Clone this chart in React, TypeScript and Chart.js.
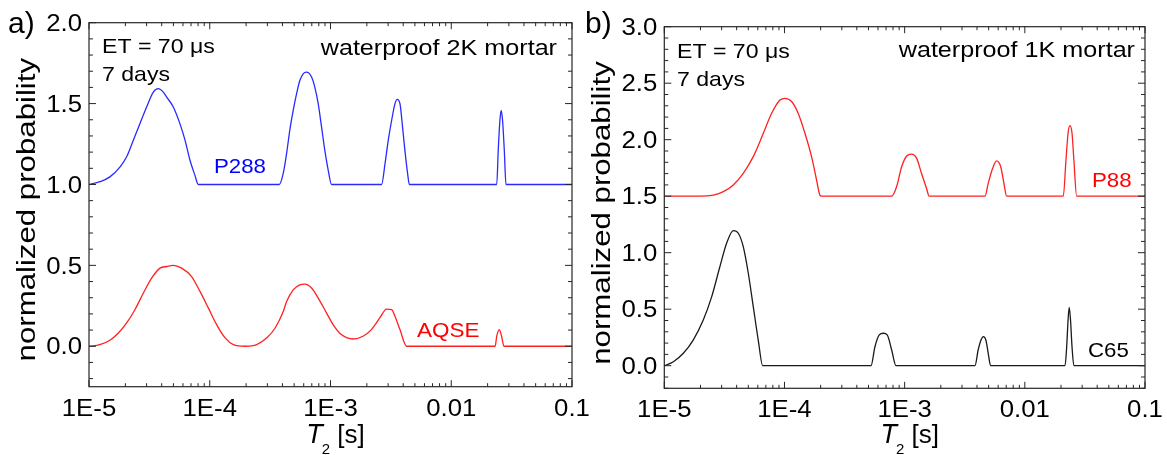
import React, { useEffect, useRef } from "react";
import { Chart, registerables } from "chart.js";

Chart.register(...registerables);

// ---------------- data ----------------
const xTickValues = [1e-5, 1e-4, 1e-3, 1e-2, 1e-1];
const xTickLabels = ["1E-5", "1E-4", "1E-3", "0.01", "0.1"];
const yTickValuesA = [0, 0.5, 1.0, 1.5, 2.0];
const yTickLabelsA = ["0.0", "0.5", "1.0", "1.5", "2.0"];
const yTickValuesB = [0, 0.5, 1.0, 1.5, 2.0, 2.5, 3.0];
const yTickLabelsB = ["0.0", "0.5", "1.0", "1.5", "2.0", "2.5", "3.0"];

// panel a) waterproof 2K mortar
const p288T2 = [1e-5, 1.23e-5, 1.49e-5, 1.81e-5, 2.05e-5, 2.33e-5, 2.64e-5, 3.0e-5, 3.41e-5, 3.75e-5, 4.12e-5, 4.4e-5, 4.99e-5, 5.66e-5, 6.24e-5, 6.86e-5, 7.53e-5, 8.04e-5, 3.77e-4, 4.06e-4, 4.33e-4, 4.6e-4, 4.91e-4, 5.24e-4, 5.57e-4, 5.94e-4, 6.32e-4, 6.97e-4, 7.41e-4, 7.91e-4, 8.43e-4, 8.97e-4, 9.57e-4, 1.02e-3, 2.65e-3, 2.83e-3, 3.01e-3, 3.21e-3, 3.42e-3, 3.57e-3, 3.76e-3, 3.95e-3, 4.13e-3, 4.35e-3, 4.5e-3, 0.0238, 0.0245, 0.0253, 0.0259, 0.0266, 0.0275, 0.0284, 0.1];
const p288Y = [1.0, 1.017, 1.047, 1.109, 1.171, 1.274, 1.376, 1.479, 1.571, 1.592, 1.571, 1.54, 1.479, 1.376, 1.274, 1.15, 1.058, 1.0, 1.0, 1.068, 1.192, 1.335, 1.458, 1.561, 1.643, 1.684, 1.694, 1.664, 1.602, 1.5, 1.356, 1.212, 1.089, 1.0, 1.0, 1.13, 1.274, 1.397, 1.5, 1.526, 1.5, 1.356, 1.212, 1.068, 1.0, 1.0, 1.212, 1.397, 1.458, 1.397, 1.212, 1.0, 1.0];

const aqseT2 = [1e-5, 1.23e-5, 1.49e-5, 1.75e-5, 2.05e-5, 2.4e-5, 2.82e-5, 3.3e-5, 3.87e-5, 4.4e-5, 4.99e-5, 5.85e-5, 7.08e-5, 8.3e-5, 9.73e-5, 1.14e-4, 1.34e-4, 1.57e-4, 1.96e-4, 2.45e-4, 2.97e-4, 3.48e-4, 4.07e-4, 4.33e-4, 4.91e-4, 5.57e-4, 6.12e-4, 6.97e-4, 7.91e-4, 9.27e-4, 1.05e-3, 1.23e-3, 1.54e-3, 1.86e-3, 2.18e-3, 2.56e-3, 2.91e-3, 3.21e-3, 3.42e-3, 3.76e-3, 4.27e-3, 0.0231, 0.0238, 0.025, 0.0261, 0.0273, 0.1];
const aqseY = [0, 0.01, 0.037, 0.082, 0.144, 0.226, 0.329, 0.421, 0.483, 0.493, 0.5, 0.483, 0.431, 0.339, 0.237, 0.134, 0.052, 0.01, 0, 0.01, 0.052, 0.113, 0.216, 0.277, 0.349, 0.38, 0.384, 0.36, 0.298, 0.206, 0.134, 0.072, 0.045, 0.062, 0.103, 0.175, 0.23, 0.226, 0.185, 0.103, 0, 0, 0.062, 0.103, 0.062, 0, 0];

// panel b) waterproof 1K mortar
const p88T2 = [1e-5, 2.0e-5, 2.56e-5, 3.1e-5, 3.75e-5, 4.54e-5, 5.5e-5, 6.67e-5, 7.82e-5, 9.18e-5, 1.01e-4, 1.15e-4, 1.3e-4, 1.48e-4, 1.68e-4, 1.85e-4, 1.97e-4, 2.04e-4, 7.8e-4, 8.57e-4, 9.44e-4, 1.04e-3, 1.14e-3, 1.26e-3, 1.38e-3, 1.52e-3, 1.6e-3, 4.66e-3, 4.96e-3, 5.4e-3, 5.82e-3, 6.3e-3, 6.7e-3, 7.05e-3, 0.0209, 0.022, 0.0229, 0.0237, 0.0247, 0.0256, 0.027, 0.1];
const p88Y = [1.5, 1.5, 1.51, 1.54, 1.6, 1.703, 1.85, 2.057, 2.234, 2.351, 2.366, 2.336, 2.234, 2.057, 1.85, 1.643, 1.51, 1.5, 1.5, 1.584, 1.761, 1.856, 1.873, 1.835, 1.703, 1.57, 1.5, 1.5, 1.614, 1.747, 1.812, 1.761, 1.614, 1.5, 1.5, 1.82, 2.057, 2.124, 2.057, 1.82, 1.5, 1.5];

const c65T2 = [1e-5, 1.19e-5, 1.44e-5, 1.74e-5, 2.11e-5, 2.48e-5, 2.9e-5, 3.3e-5, 3.75e-5, 4.13e-5, 4.54e-5, 5.0e-5, 5.5e-5, 6.05e-5, 6.59e-5, 5.25e-4, 5.66e-4, 6.15e-4, 6.64e-4, 7.16e-4, 7.8e-4, 8.47e-4, 3.85e-3, 4.09e-3, 4.32e-3, 4.51e-3, 4.74e-3, 4.96e-3, 5.19e-3, 0.0216, 0.0223, 0.0229, 0.0234, 0.024, 0.0247, 0.0256, 0.1];
const c65Y = [0, 0.035, 0.11, 0.227, 0.404, 0.611, 0.876, 1.083, 1.195, 1.172, 1.053, 0.818, 0.522, 0.227, 0, 0, 0.168, 0.272, 0.287, 0.272, 0.139, 0, 0, 0.139, 0.227, 0.257, 0.227, 0.11, 0, 0, 0.168, 0.404, 0.517, 0.404, 0.168, 0, 0];

// ---------------- styling ----------------
const FONT = '"Liberation Sans", Arial, Helvetica, sans-serif';
const AXIS = "#262626";
const BLUE = "#2a2aff";
const RED = "#ff2020";
const BLACK = "#1a1a1a";

type Txt = {
  t: string;
  x: number;
  y: number;
  size: number;
  color?: string;
  align?: CanvasTextAlign;
  sx?: number;
};

type Series = { t2: number[]; y: number[]; color: string };

type PanelProps = {
  left: number;
  width: number;
  pad: { left: number; right: number; top: number; bottom: number };
  yMin: number;
  yMax: number;
  yTickValues: number[];
  yTickLabels: string[];
  series: Series[];
  texts: Txt[];
  yTitleShift: number;
};

function drawText(
  ctx: CanvasRenderingContext2D,
  s: string,
  x: number,
  y: number,
  size: number,
  color = "#000",
  align: CanvasTextAlign = "left",
  sx = 1,
  italic = false
) {
  ctx.save();
  ctx.translate(x, y);
  ctx.scale(sx, 1);
  ctx.font = `${italic ? "italic " : ""}${size}px ${FONT}`;
  ctx.fillStyle = color;
  ctx.textAlign = align;
  ctx.textBaseline = "alphabetic";
  ctx.fillText(s, 0, 0);
  ctx.restore();
}

function Panel(props: PanelProps) {
  const ref = useRef<HTMLCanvasElement | null>(null);

  useEffect(() => {
    const canvas = ref.current;
    if (!canvas) return;

    const deco = {
      id: "deco",
      afterDraw(chart: any) {
        const ctx: CanvasRenderingContext2D = chart.ctx;
        const { left, right, top, bottom } = chart.chartArea;
        const xs = chart.scales.x;
        const ys = chart.scales.y;
        ctx.save();
        ctx.strokeStyle = AXIS;
        ctx.lineWidth = 1.2;
        ctx.strokeRect(left, top, right - left, bottom - top);

        // x ticks (inward, bottom & top)
        ctx.lineWidth = 1;
        ctx.beginPath();
        for (let d = -5; d <= -1; d++) {
          for (let m = 1; m <= 9; m++) {
            const v = m * Math.pow(10, d);
            if (v > 0.1 * 1.0001) break;
            const px = xs.getPixelForValue(v);
            const len = m === 1 ? 6.5 : 3.5;
            ctx.moveTo(px, bottom);
            ctx.lineTo(px, bottom - len);
            ctx.moveTo(px, top);
            ctx.lineTo(px, top + len);
          }
        }
        // y ticks (inward, left & right)
        const i0 = Math.ceil(props.yMin * 10 - 1e-6);
        const i1 = Math.floor(props.yMax * 10 + 1e-6);
        for (let i = i0; i <= i1; i++) {
          const v = i / 10;
          const py = ys.getPixelForValue(v);
          const len = i % 5 === 0 ? 7 : 4;
          ctx.moveTo(left, py);
          ctx.lineTo(left + len, py);
          ctx.moveTo(right, py);
          ctx.lineTo(right - len, py);
        }
        ctx.stroke();

        // tick labels
        xTickValues.forEach((v, i) => {
          const px = xs.getPixelForValue(v);
          drawText(ctx, xTickLabels[i], px, bottom + 29, 23, "#000", "center", 1.12);
        });
        props.yTickValues.forEach((v, i) => {
          const py = ys.getPixelForValue(v);
          drawText(ctx, props.yTickLabels[i], left - 7, py + 8.2, 23, "#000", "right", 1.12);
        });

        // y title
        ctx.save();
        ctx.translate(left - 54, (top + bottom) / 2 + props.yTitleShift);
        ctx.rotate(-Math.PI / 2);
        ctx.scale(1.2, 1);
        ctx.font = `26px ${FONT}`;
        ctx.fillStyle = "#000";
        ctx.textAlign = "center";
        ctx.textBaseline = "alphabetic";
        ctx.fillText("normalized probability", 0, 0);
        ctx.restore();

        // x title: T2 [s]
        const cx = (left + right) / 2 + 5;
        ctx.font = `italic 27px ${FONT}`;
        const wT = ctx.measureText("T").width;
        ctx.font = `15px ${FONT}`;
        const w2 = ctx.measureText("2").width;
        ctx.font = `26px ${FONT}`;
        const wS = ctx.measureText(" [s]").width;
        const total = wT + w2 - 1 + wS;
        const x0 = cx - total / 2;
        drawText(ctx, "T", x0, 443, 27, "#000", "left", 1, true);
        drawText(ctx, "2", x0 + wT - 1, 454, 15, "#000", "left");
        drawText(ctx, " [s]", x0 + wT - 1 + w2, 443, 26, "#000", "left");

        // annotations
        props.texts.forEach((t) => {
          drawText(ctx, t.t, t.x, t.y, t.size, t.color ?? "#000", t.align ?? "left", t.sx ?? 1);
        });
        ctx.restore();
      },
    };

    const chart = new Chart(canvas, {
      type: "line",
      data: {
        datasets: props.series.map((s) => ({
          data: s.t2.map((v, i) => ({ x: v, y: s.y[i] })),
          borderColor: s.color,
          borderWidth: 1.3,
          pointRadius: 0,
          cubicInterpolationMode: "monotone",
          fill: false,
        })),
      },
      options: {
        responsive: false,
        animation: false,
        devicePixelRatio: 1,
        events: [],
        layout: { padding: props.pad },
        plugins: { legend: { display: false }, tooltip: { enabled: false } },
        scales: {
          x: { type: "logarithmic", min: 1e-5, max: 0.1, display: false },
          y: { type: "linear", min: props.yMin, max: props.yMax, display: false },
        },
      },
      plugins: [deco],
    } as any);

    return () => chart.destroy();
  }, []);

  return (
    <canvas
      ref={ref}
      width={props.width}
      height={455}
      style={{ position: "absolute", left: props.left, top: 0, width: props.width, height: 455 }}
    />
  );
}

export default function App() {
  return (
    <div
      style={{
        position: "absolute",
        left: 0,
        top: 0,
        width: 1167,
        height: 455,
        background: "#fff",
        overflow: "hidden",
      }}
    >
      <Panel
        left={0}
        width={600}
        pad={{ left: 89, right: 28, top: 22.7, bottom: 68.3 }}
        yMin={-0.25}
        yMax={2.0}
        yTickValues={yTickValuesA}
        yTickLabels={yTickLabelsA}
        yTitleShift={5}
        series={[
          { t2: p288T2, y: p288Y, color: BLUE },
          { t2: aqseT2, y: aqseY, color: RED },
        ]}
        texts={[
          { t: "a)", x: 8, y: 33, size: 30 },
          { t: "ET = 70 μs", x: 102, y: 53, size: 21, sx: 1.1 },
          { t: "7 days", x: 102, y: 80.5, size: 21, sx: 1.1 },
          { t: "waterproof 2K mortar", x: 557, y: 54.5, size: 21.5, sx: 1.17, align: "right" },
          { t: "P288", x: 214, y: 173, size: 21, sx: 1.06, color: "#0000ff" },
          { t: "AQSE", x: 417, y: 336.5, size: 21, sx: 1.07, color: "#ff0000" },
        ]}
      />
      <Panel
        left={580}
        width={587}
        pad={{ left: 84.3, right: 22, top: 26.7, bottom: 66.7 }}
        yMin={-0.2}
        yMax={3.0}
        yTickValues={yTickValuesB}
        yTickLabels={yTickLabelsB}
        yTitleShift={5.5}
        series={[
          { t2: p88T2, y: p88Y, color: RED },
          { t2: c65T2, y: c65Y, color: BLACK },
        ]}
        texts={[
          { t: "b)", x: 5, y: 33, size: 30 },
          { t: "ET = 70 μs", x: 97, y: 58, size: 21, sx: 1.1 },
          { t: "7 days", x: 97, y: 86, size: 21, sx: 1.1 },
          { t: "waterproof 1K mortar", x: 555, y: 56.7, size: 21.5, sx: 1.17, align: "right" },
          { t: "P88", x: 512, y: 187, size: 21, sx: 1.06, color: "#ff0000" },
          { t: "C65", x: 508, y: 356.5, size: 21, sx: 1.06, color: "#000" },
        ]}
      />
    </div>
  );
}
